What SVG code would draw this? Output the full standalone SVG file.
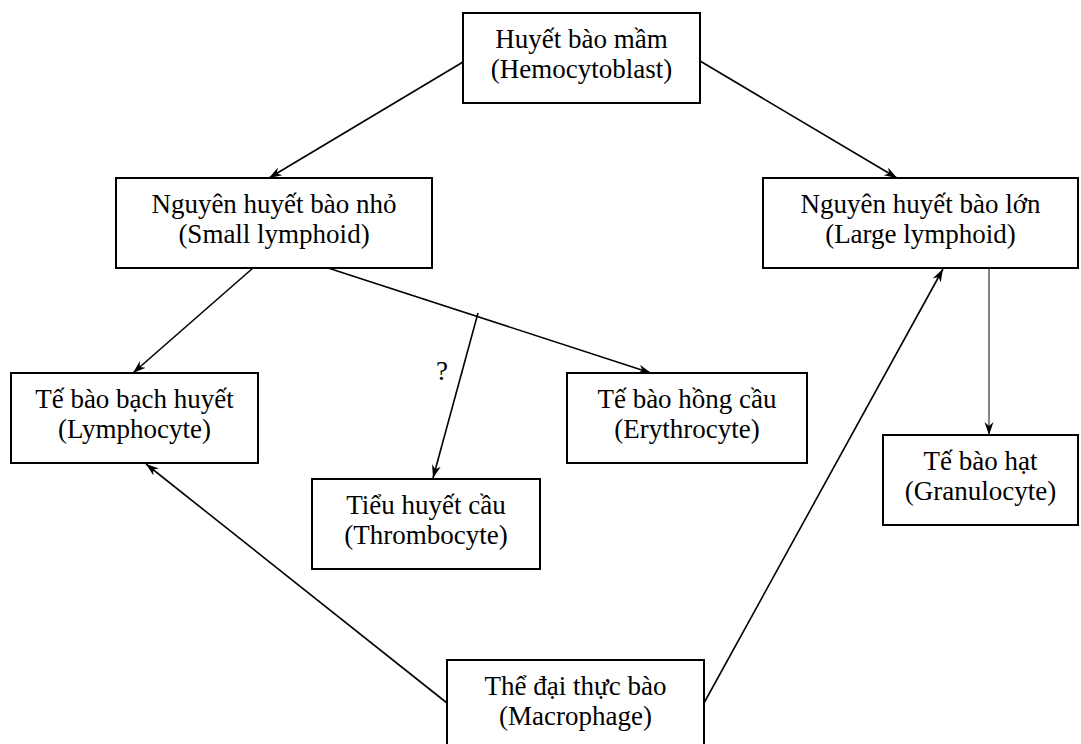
<svg xmlns="http://www.w3.org/2000/svg" width="1081" height="744" viewBox="0 0 1081 744">
<defs>
<style>
.box{fill:#fff;stroke:#000;stroke-width:2}
.t{font-family:"Liberation Serif","Times New Roman",serif;font-size:27px;fill:#000;text-anchor:middle}
.c{fill:none;stroke:#000;stroke-width:1.6}
.thin{fill:none;stroke:#333;stroke-width:1.2}
</style>
<marker id="ah" markerWidth="14" markerHeight="10" refX="13" refY="5" orient="auto" markerUnits="userSpaceOnUse">
<path d="M0,0.5 L13,5 L0,9.5 L4,5 z" fill="#000"/>
</marker>
</defs>
<rect width="1081" height="744" fill="#fff"/>
<g id="connectors">
<line class="c" x1="463" y1="62" x2="269" y2="178" marker-end="url(#ah)"/>
<line class="c" x1="700" y1="61" x2="897" y2="178" marker-end="url(#ah)"/>
<line class="c" x1="253" y1="268" x2="133" y2="373" marker-end="url(#ah)"/>
<line class="c" x1="328" y1="268" x2="651" y2="373" marker-end="url(#ah)"/>
<line class="c" x1="478" y1="313" x2="433" y2="478" marker-end="url(#ah)"/>
<line class="c" x1="447" y1="703" x2="146" y2="464" marker-end="url(#ah)"/>
<line class="c" x1="704" y1="703" x2="943" y2="269" marker-end="url(#ah)"/>
<line class="thin" x1="989" y1="268" x2="989" y2="435" marker-end="url(#ah)"/>
<text class="t" x="442" y="380">?</text>
</g>
<g id="hemocytoblast">
<rect class="box" x="463" y="13" width="237" height="90"/>
<text class="t" x="581.5" y="48">Huyết bào mầm</text>
<text class="t" x="581.5" y="78">(Hemocytoblast)</text>
</g>
<g id="small-lymphoid">
<rect class="box" x="116" y="178" width="316" height="90"/>
<text class="t" x="274" y="213">Nguyên huyết bào nhỏ</text>
<text class="t" x="274" y="243">(Small lymphoid)</text>
</g>
<g id="large-lymphoid">
<rect class="box" x="763" y="178" width="315" height="90"/>
<text class="t" x="920.5" y="213">Nguyên huyết bào lớn</text>
<text class="t" x="920.5" y="243">(Large lymphoid)</text>
</g>
<g id="lymphocyte">
<rect class="box" x="11" y="373" width="247" height="90"/>
<text class="t" x="134.5" y="408">Tế bào bạch huyết</text>
<text class="t" x="134.5" y="438">(Lymphocyte)</text>
</g>
<g id="erythrocyte">
<rect class="box" x="567" y="373" width="240" height="90"/>
<text class="t" x="687" y="408">Tế bào hồng cầu</text>
<text class="t" x="687" y="438">(Erythrocyte)</text>
</g>
<g id="thrombocyte">
<rect class="box" x="312" y="479" width="228" height="90"/>
<text class="t" x="426" y="514">Tiểu huyết cầu</text>
<text class="t" x="426" y="544">(Thrombocyte)</text>
</g>
<g id="granulocyte">
<rect class="box" x="883" y="435" width="195" height="90"/>
<text class="t" x="980.5" y="470">Tế bào hạt</text>
<text class="t" x="980.5" y="500">(Granulocyte)</text>
</g>
<g id="macrophage">
<rect class="box" x="447" y="660" width="257" height="95"/>
<text class="t" x="575.5" y="695">Thể đại thực bào</text>
<text class="t" x="575.5" y="725">(Macrophage)</text>
</g>
</svg>
